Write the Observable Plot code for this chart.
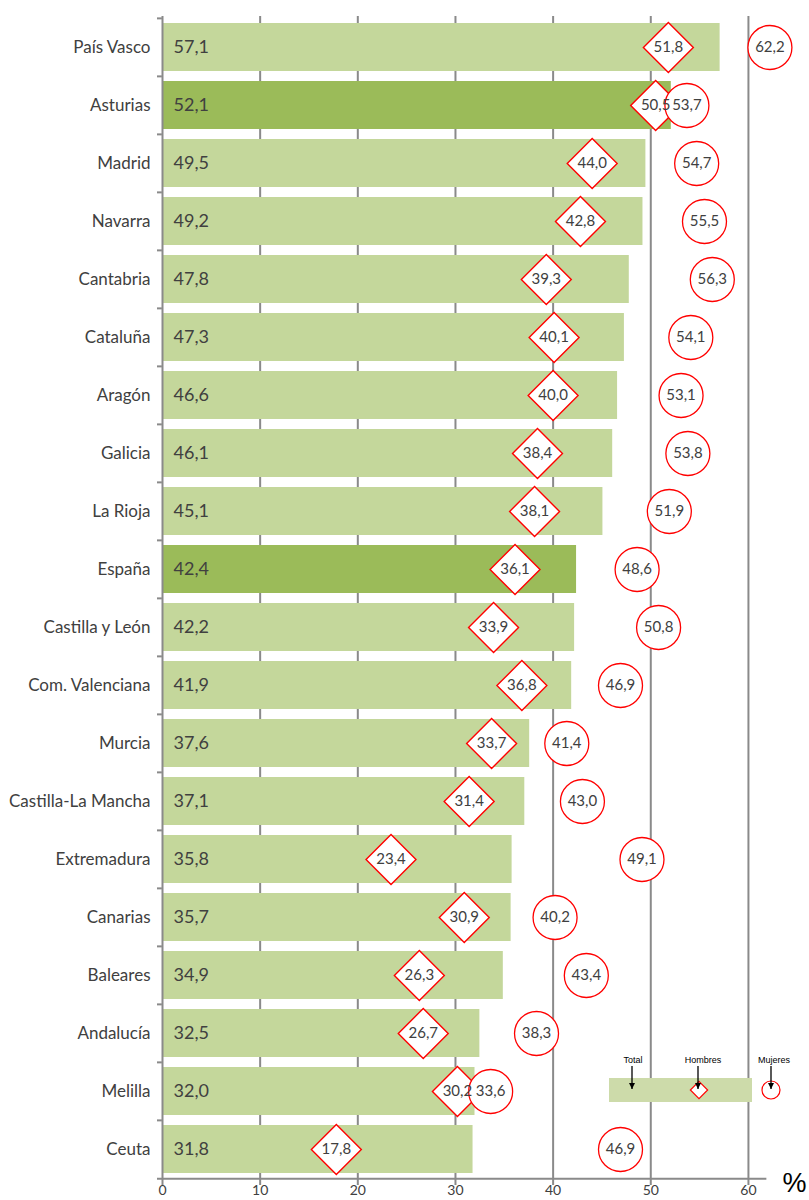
<!DOCTYPE html>
<html>
<head>
<meta charset="utf-8">
<script src="https://cdn.jsdelivr.net/npm/d3@7"></script>
<script src="https://cdn.jsdelivr.net/npm/@observablehq/plot@0.6"></script>
<style>
  html, body { margin: 0; padding: 0; background: #fff; }
  #wrap { position: relative; width: 809px; height: 1200px; }
  #legend { position: absolute; left: 0; top: 0; pointer-events: none; }
</style>
</head>
<body>
<div id="wrap"></div>
<script>
const regions = ["País Vasco","Asturias","Madrid","Navarra","Cantabria","Cataluña","Aragón","Galicia","La Rioja","España","Castilla y León","Com. Valenciana","Murcia","Castilla-La Mancha","Extremadura","Canarias","Baleares","Andalucía","Melilla","Ceuta"];
const total   = [57.1,52.1,49.5,49.2,47.8,47.3,46.6,46.1,45.1,42.4,42.2,41.9,37.6,37.1,35.8,35.7,34.9,32.5,32.0,31.8];
const hombres = [51.8,50.5,44.0,42.8,39.3,40.1,40.0,38.4,38.1,36.1,33.9,36.8,33.7,31.4,23.4,30.9,26.3,26.7,30.2,17.8];
const mujeres = [62.2,53.7,54.7,55.5,56.3,54.1,53.1,53.8,51.9,48.6,50.8,46.9,41.4,43.0,49.1,40.2,43.4,38.3,33.6,46.9];
const highlighted = ["Asturias","España"];
const xTicks = [0,10,20,30,40,50,60];
const gridTicks = [10,20,30,40,50,60];

const data = regions.map((r, i) => ({region: r, total: total[i], hombres: hombres[i], mujeres: mujeres[i]}));
const fmt = v => d3.format(".1f")(v).replace(".", ",");

const W = 809, H = 1200, MT = 16, MB = 19, ML = 162, MR = 43;
const step = (H - MT - MB) / regions.length;
const GRAY = "#8a8a8a", TXT = "#404040", RED = "#ff0000";
const LIGHT = "#c4d79b", DARK = "#9bbb59";

const chart = Plot.plot({
  width: W, height: H,
  marginTop: MT, marginBottom: MB, marginLeft: ML, marginRight: MR,
  style: {fontFamily: "Lato, 'Open Sans', sans-serif", color: TXT, background: "#fff"},
  x: {domain: [0, 61.85], label: null},
  y: {domain: regions, paddingInner: 0.17, paddingOuter: 0.085, label: null},
  marks: [
    Plot.ruleX(gridTicks, {stroke: GRAY, strokeWidth: 2}),
    Plot.barX(data, {x: "total", y: "region", fill: d => highlighted.includes(d.region) ? DARK : LIGHT}),
    Plot.ruleX([0], {stroke: GRAY, strokeWidth: 2}),
    Plot.ruleY(regions, {y: d => d, x1: 0, x2: 0.5, dx: -5, dy: -step / 2, stroke: GRAY, strokeWidth: 2}),
    Plot.ruleY([regions[regions.length - 1]], {y: d => d, x1: 0, x2: 62.4, dx: -5, dy: step / 2, stroke: GRAY, strokeWidth: 2}),
    Plot.axisY({tickSize: 0, tickPadding: 12, fontSize: 17, fill: TXT, label: null}),
    Plot.axisX({ticks: xTicks, tickSize: 4, tickPadding: 0, stroke: GRAY, strokeWidth: 2, fontSize: 14, fill: TXT, label: null}),
    Plot.text(["%"], {frameAnchor: "bottom-right", dx: 40, dy: 10, fontSize: 27, fill: "#000", fontFamily: "Liberation Sans, Arial, sans-serif", textAnchor: "end"}),
    Plot.text(data, {x: 0, y: "region", text: d => fmt(d.total), dx: 11, textAnchor: "start", fontSize: 18, fill: TXT}),
    Plot.dot(data, {x: "hombres", y: "region", symbol: "diamond2", r: 22.5, fill: "#fff", stroke: RED, strokeWidth: 1.4}),
    Plot.dot(data, {x: "mujeres", y: "region", r: 22, fill: "#fff", stroke: RED, strokeWidth: 1.3}),
    Plot.text(data, {x: "hombres", y: "region", text: d => fmt(d.hombres), fontSize: 15, fill: TXT}),
    Plot.text(data, {x: "mujeres", y: "region", text: d => fmt(d.mujeres), fontSize: 15, fill: TXT})
  ]
});

const wrap = document.getElementById("wrap");
wrap.appendChild(chart);

// Legend (key) drawn as an overlay
const lg = d3.select(wrap).append("svg")
  .attr("id", "legend").attr("width", W).attr("height", H);
lg.append("defs").append("marker")
  .attr("id", "ah").attr("viewBox", "0 0 10 10").attr("refX", 10).attr("refY", 5)
  .attr("markerWidth", 5).attr("markerHeight", 5).attr("orient", "auto")
  .append("path").attr("d", "M0,0L10,5L0,10Z").attr("fill", "#000");
lg.append("rect").attr("x", 609).attr("y", 1078).attr("width", 143).attr("height", 24).attr("fill", "#cddbaa");
lg.append("path").attr("d", d3.symbol(d3.symbolDiamond2, 190)()).attr("transform", "translate(699,1090)")
  .attr("fill", "#fff").attr("stroke", RED).attr("stroke-width", 1.2);
lg.append("circle").attr("cx", 771).attr("cy", 1090).attr("r", 9).attr("fill", "#fff").attr("stroke", RED).attr("stroke-width", 1.2);
const keys = [["Total", 633, 632], ["Hombres", 703, 698], ["Mujeres", 774, 771]];
for (const [t, tx, ax] of keys) {
  lg.append("text").attr("x", tx).attr("y", 1063).attr("text-anchor", "middle")
    .attr("font-family", "Liberation Sans, Arial, sans-serif").attr("font-size", 9).attr("fill", "#000").text(t);
  lg.append("line").attr("x1", ax).attr("x2", ax).attr("y1", 1066).attr("y2", 1089)
    .attr("stroke", "#000").attr("stroke-width", 1.3).attr("marker-end", "url(#ah)");
}
</script>
</body>
</html>
